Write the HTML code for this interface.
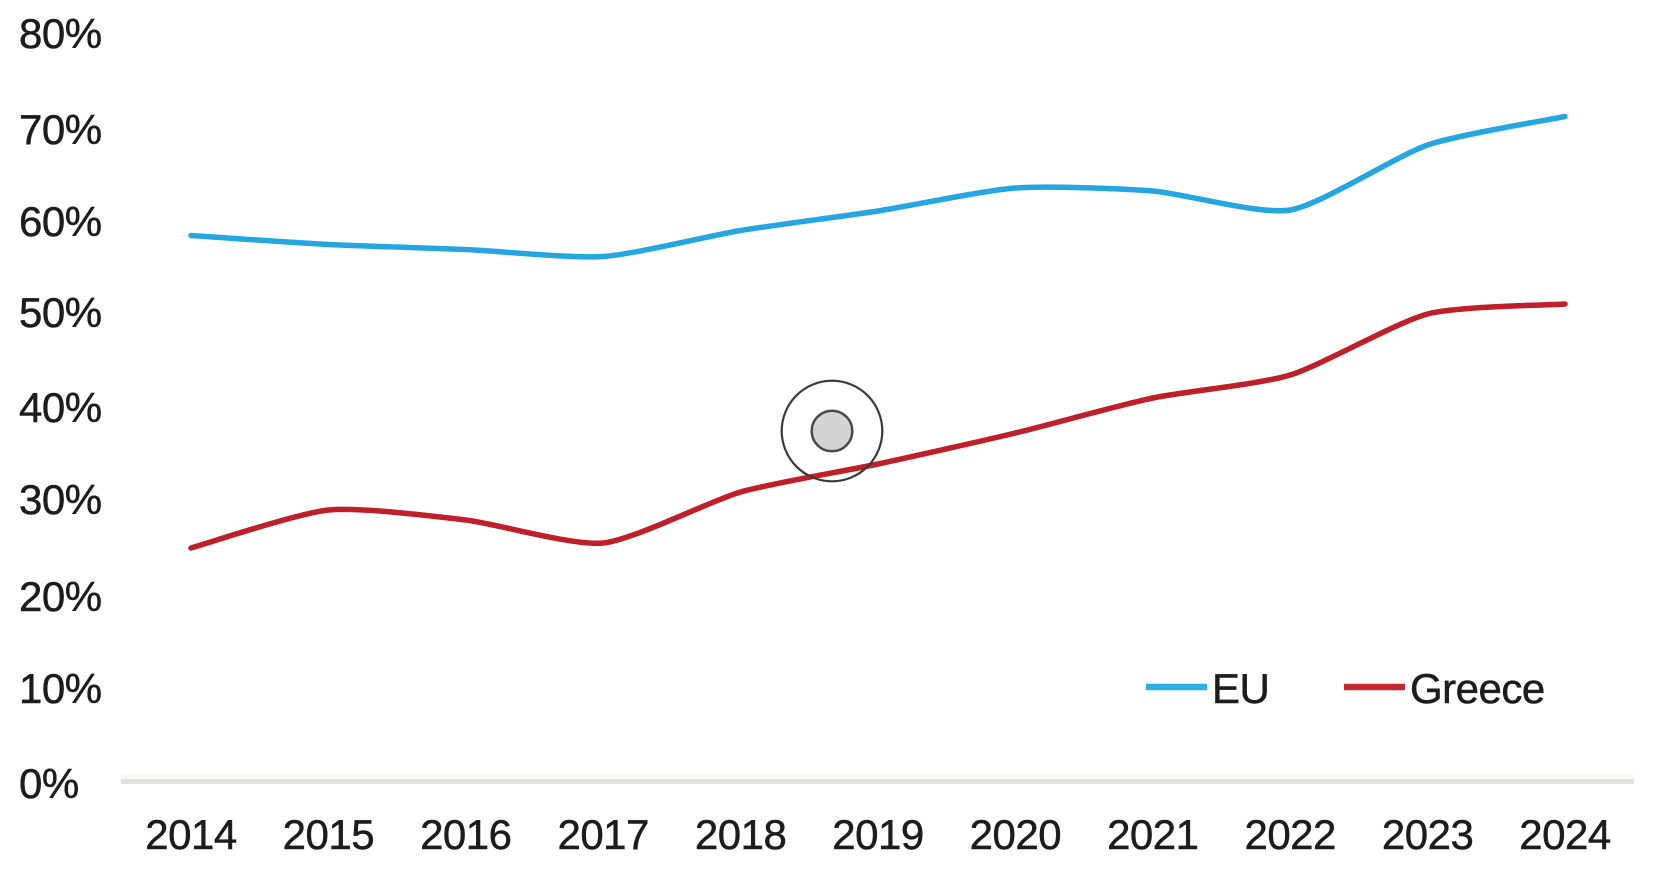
<!DOCTYPE html>
<html>
<head>
<meta charset="utf-8">
<style>
  html, body { margin: 0; padding: 0; background: #ffffff; }
  body { width: 1674px; height: 870px; overflow: hidden; }
  svg { display: block; }
  text { font-family: "Liberation Sans", Arial, sans-serif; font-size: 42px; fill: #1c1c1c; stroke: #1c1c1c; stroke-width: 0.5px; letter-spacing: -0.5px; }
</style>
</head>
<body>
<svg width="1674" height="870" viewBox="0 0 1674 870" xmlns="http://www.w3.org/2000/svg">
  <rect x="0" y="0" width="1674" height="870" fill="#ffffff"/>

  <!-- Y axis labels -->
  <text x="19" y="48">80%</text>
  <text x="19" y="144">70%</text>
  <text x="19" y="236">60%</text>
  <text x="19" y="327">50%</text>
  <text x="19" y="422">40%</text>
  <text x="19" y="514">30%</text>
  <text x="19" y="611">20%</text>
  <text x="19" y="703">10%</text>
  <text x="19" y="798">0%</text>

  <!-- X axis line -->
  <rect x="121" y="774" width="1513" height="5" fill="#f7f7f5"/>
  <rect x="121" y="779" width="1513" height="5" fill="#e0e0de"/>

  <!-- X axis labels -->
  <g text-anchor="middle">
    <text x="191" y="849">2014</text>
    <text x="328.4" y="849">2015</text>
    <text x="465.8" y="849">2016</text>
    <text x="603.2" y="849">2017</text>
    <text x="740.6" y="849">2018</text>
    <text x="878" y="849">2019</text>
    <text x="1015.4" y="849">2020</text>
    <text x="1152.8" y="849">2021</text>
    <text x="1290.2" y="849">2022</text>
    <text x="1427.6" y="849">2023</text>
    <text x="1565" y="849">2024</text>
  </g>

  <!-- EU series -->
  <path fill="none" stroke="#25a6e1" stroke-width="5.5" stroke-linejoin="round" stroke-linecap="round"
    d="M191,235.5
       C206.3,236.5 297.9,242.94 328.4,244.5
       C358.9,246.06 435.3,248.17 465.8,249.5
       C496.3,250.83 572.7,258.61 603.2,256.5
       C633.7,254.39 710.1,235.56 740.6,230.5
       C771.1,225.44 847.5,215.72 878,211
       C908.5,206.28 984.9,190.22 1015.4,188
       C1045.9,185.78 1122.3,188.56 1152.8,191
       C1183.3,193.44 1259.7,215.11 1290.2,210
       C1320.7,204.89 1397.1,155.39 1427.6,145
       C1458.1,134.61 1549.7,119.67 1565,116.5"/>

  <!-- Greece series -->
  <path fill="none" stroke="#bf1f28" stroke-width="5.5" stroke-linejoin="round" stroke-linecap="round"
    d="M191,548
       C206.3,543.78 297.9,513.11 328.4,510
       C358.9,506.89 435.3,516.33 465.8,520
       C496.3,523.67 572.7,546.11 603.2,543
       C633.7,539.89 710.1,500.78 740.6,492
       C771.1,483.22 847.5,470.56 878,464
       C908.5,457.44 984.9,440.33 1015.4,433
       C1045.9,425.67 1122.3,404.44 1152.8,398
       C1183.3,391.56 1259.7,384.33 1290.2,375
       C1320.7,365.67 1397.1,321.89 1427.6,314
       C1458.1,306.11 1549.7,305.11 1565,304"/>

  <!-- Legend -->
  <line x1="1146" y1="687" x2="1207" y2="687" stroke="#2eaee6" stroke-width="6.5"/>
  <text x="1212" y="703">EU</text>
  <line x1="1344" y1="687" x2="1405" y2="687" stroke="#c4282e" stroke-width="6.5"/>
  <text x="1410" y="703">Greece</text>

  <!-- cursor indicator -->
  <circle cx="832" cy="431" r="50.3" fill="none" stroke="#3a3a3a" stroke-width="2.2"/>
  <circle cx="832" cy="431" r="20.3" fill="#d4d4d4" stroke="#4a4a4a" stroke-width="2.5"/>
</svg>
</body>
</html>
